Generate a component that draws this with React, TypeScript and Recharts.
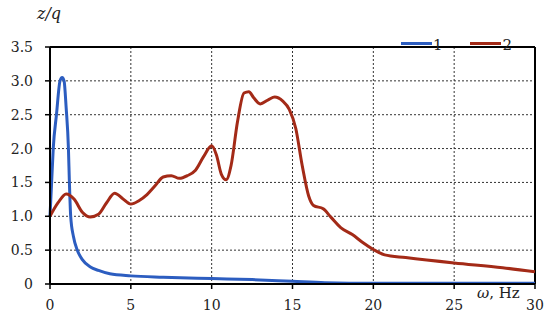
import { LineChart, Line, XAxis, YAxis, CartesianGrid, ReferenceLine, Legend } from "recharts";

const xTicks = [0, 5, 10, 15, 20, 25, 30];
const yTicks = [0, 0.5, 1, 1.5, 2, 2.5, 3, 3.5];

const omega1 = [0, 0.1, 0.2, 0.4, 0.62, 0.75, 0.87, 1.0, 1.14, 1.2, 1.28, 1.45, 1.69, 2.0, 2.5, 3.0, 3.7, 5.0, 7.0, 10, 12.5, 15, 17, 20, 25, 30];
const curve1 = [1.0, 1.5, 2.0, 2.5, 3.0, 3.05, 3.0, 2.6, 2.0, 1.5, 1.0, 0.7, 0.5, 0.36, 0.25, 0.2, 0.15, 0.12, 0.1, 0.08, 0.065, 0.04, 0.02, 0.01, 0.01, 0.01];

const omega2 = [0, 0.5, 1.0, 1.5, 2.0, 2.5, 3.0, 3.5, 4.0, 4.5, 5.0, 5.5, 6.0, 6.5, 7.0, 7.5, 8.0, 8.5, 9.0, 9.5, 10.0, 10.3, 10.6, 10.9, 11.2, 11.6, 12.0, 12.3, 12.6, 13.0, 13.5, 13.9, 14.4, 14.8, 15.2, 15.6, 16.0, 16.3, 16.9, 17.4, 18.0, 18.7, 19.3, 20.0, 20.7, 22, 25, 28, 30];
const curve2 = [1.0, 1.2, 1.33, 1.25, 1.06, 0.99, 1.03, 1.2, 1.34, 1.26, 1.18, 1.23, 1.32, 1.45, 1.58, 1.6, 1.56, 1.6, 1.68, 1.88, 2.04, 1.9, 1.62, 1.54, 1.75, 2.4, 2.82, 2.84, 2.75, 2.66, 2.72, 2.76, 2.7, 2.58, 2.3, 1.75, 1.3, 1.16, 1.11, 0.98, 0.83, 0.73, 0.62, 0.51, 0.43, 0.39, 0.31, 0.24, 0.18];

const data1 = omega1.map((x, i) => ({ x, y: curve1[i] }));
const data2 = omega2.map((x, i) => ({ x, y: curve2[i] }));

const font = "DejaVu Serif";
const tickStyle = { fontFamily: font, fontSize: 14, fill: "#222" };

function LegendBox({ payload }: any) {
  return (
    <div style={{ display: "flex", fontFamily: font, fontSize: 15, color: "#222", lineHeight: "18px" }}>
      {(payload || []).map((p: any, i: number) => (
        <div key={p.value} style={{ display: "flex", alignItems: "center", marginLeft: i === 0 ? 0 : 28 }}>
          <div style={{ width: 31, height: 3, background: p.color, marginRight: 1 }} />
          <span style={{ position: "relative", top: 2 }}>{p.value}</span>
        </div>
      ))}
    </div>
  );
}

export default function App() {
  return (
    <div style={{ position: "absolute", left: 0, top: 0, width: 550, height: 323, background: "#fff" }}>
      <LineChart width={550} height={323} margin={{ top: 29, right: 15, bottom: 9, left: 0 }}>
        <CartesianGrid stroke="#333" strokeDasharray="2 2" strokeWidth={1} />
        <XAxis
          dataKey="x"
          type="number"
          domain={[0, 30]}
          ticks={xTicks}
          height={30}
          tick={tickStyle}
          tickSize={5}
          tickMargin={11}
          axisLine={{ stroke: "#000", strokeWidth: 2 }}
          tickLine={{ stroke: "#000", strokeWidth: 1.5 }}
          allowDuplicatedCategory={false}
        />
        <YAxis
          type="number"
          domain={[0, 3.5]}
          ticks={yTicks}
          width={50}
          tick={tickStyle}
          tickSize={5}
          tickMargin={12}
          tickFormatter={(v: number) => (v === 0 ? "0" : v.toFixed(1))}
          axisLine={{ stroke: "#000", strokeWidth: 2 }}
          tickLine={{ stroke: "#000", strokeWidth: 1.5 }}
        />
        <ReferenceLine y={3.5} stroke="#000" strokeWidth={2} />
        <ReferenceLine x={30} stroke="#000" strokeWidth={2} />
        <Legend
          verticalAlign="top"
          align="right"
          content={<LegendBox />}
          wrapperStyle={{ top: 34, right: 38, left: "auto", width: "auto" }}
        />
        <Line data={data1} dataKey="y" name="1" type="monotone" stroke="#2c5dc0" strokeWidth={3} dot={false} isAnimationActive={false} />
        <Line data={data2} dataKey="y" name="2" type="monotone" stroke="#a32a17" strokeWidth={3} dot={false} isAnimationActive={false} />
      </LineChart>
      <div style={{ position: "absolute", left: 37, top: 4, fontFamily: font, fontSize: 16, fontStyle: "italic", color: "#222" }}>
        z/q
      </div>
      <div style={{ position: "absolute", left: 477, top: 284, fontFamily: font, fontSize: 15, color: "#222" }}>
        <i>ω</i>, Hz
      </div>
    </div>
  );
}
